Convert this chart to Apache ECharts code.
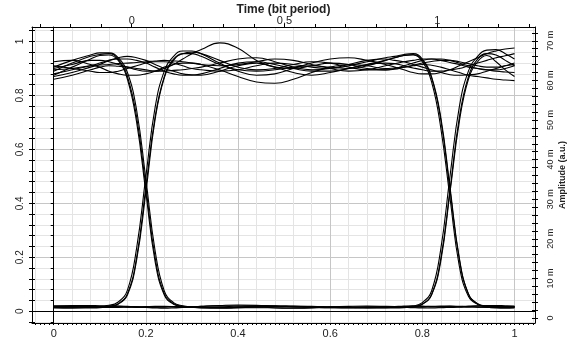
<!DOCTYPE html>
<html>
<head>
<meta charset="utf-8">
<script src="https://cdn.jsdelivr.net/npm/echarts@6/dist/echarts.min.js"></script>
<style>
  html, body { margin: 0; padding: 0; background: #fff; }
  #chart { width: 573px; height: 340px; }
</style>
</head>
<body>
<div id="chart"></div>
<script>
// sample positions along the bottom axis (denser around the two crossings)
const xs = [0, 0.04, 0.08,
  0.10, 0.12, 0.14, 0.16, 0.18, 0.20, 0.22, 0.24, 0.26, 0.28, 0.30,
  0.32, 0.36, 0.40, 0.44, 0.48, 0.52, 0.56, 0.60, 0.64, 0.68, 0.72,
  0.74, 0.76, 0.78, 0.80, 0.82, 0.84, 0.86, 0.88, 0.90, 0.92, 0.94, 0.96, 0.98, 1.0];

// high - high - high
const high1 = [0.90, 0.915, 0.93,
  0.93, 0.925, 0.915, 0.905, 0.895, 0.89, 0.89, 0.90, 0.915, 0.935, 0.955,
  0.97, 0.995, 0.975, 0.93, 0.905, 0.90, 0.91, 0.92, 0.915, 0.90, 0.895,
  0.897, 0.905, 0.912, 0.92, 0.926, 0.93, 0.93, 0.925, 0.918, 0.91, 0.905, 0.905, 0.91, 0.915];
const high2 = [0.87, 0.885, 0.905,
  0.915, 0.93, 0.94, 0.945, 0.94, 0.93, 0.915, 0.90, 0.89, 0.88, 0.877,
  0.875, 0.89, 0.91, 0.92, 0.905, 0.885, 0.875, 0.885, 0.90, 0.915, 0.92,
  0.918, 0.91, 0.902, 0.895, 0.89, 0.89, 0.895, 0.90, 0.91, 0.92, 0.93, 0.94, 0.947, 0.955];
const high3 = [0.925, 0.93, 0.915,
  0.905, 0.89, 0.88, 0.875, 0.875, 0.88, 0.89, 0.905, 0.915, 0.92, 0.92,
  0.915, 0.895, 0.87, 0.85, 0.845, 0.86, 0.885, 0.905, 0.915, 0.91, 0.90,
  0.902, 0.905, 0.91, 0.915, 0.912, 0.905, 0.895, 0.885, 0.875, 0.87, 0.865, 0.86, 0.857, 0.855];
const high4 = [0.895, 0.90, 0.91,
  0.913, 0.915, 0.918, 0.92, 0.922, 0.925, 0.928, 0.93, 0.928, 0.925, 0.92,
  0.915, 0.91, 0.915, 0.925, 0.935, 0.93, 0.915, 0.90, 0.89, 0.895, 0.91,
  0.918, 0.925, 0.93, 0.935, 0.935, 0.93, 0.922, 0.915, 0.905, 0.90, 0.895, 0.89, 0.887, 0.885];
const high5 = [0.86, 0.875, 0.895,
  0.905, 0.91, 0.908, 0.905, 0.90, 0.895, 0.89, 0.89, 0.893, 0.895, 0.90,
  0.905, 0.92, 0.935, 0.94, 0.925, 0.905, 0.895, 0.90, 0.915, 0.93, 0.935,
  0.93, 0.925, 0.915, 0.905, 0.895, 0.885, 0.877, 0.875, 0.877, 0.88, 0.89, 0.90, 0.91, 0.92];

// high - high - low
const fallLateA = [0.91, 0.90, 0.89,
  0.885, 0.885, 0.89, 0.90, 0.91, 0.92, 0.925, 0.925, 0.92, 0.91, 0.90,
  0.895, 0.89, 0.895, 0.91, 0.92, 0.915, 0.905, 0.90, 0.91, 0.925, 0.94,
  0.945, 0.952, 0.955, 0.935, 0.87, 0.72, 0.46, 0.20, 0.065, 0.028, 0.018, 0.015, 0.015, 0.016];
const fallLateB = [0.88, 0.895, 0.91,
  0.92, 0.93, 0.935, 0.935, 0.93, 0.92, 0.905, 0.89, 0.88, 0.875, 0.875,
  0.88, 0.90, 0.92, 0.925, 0.915, 0.90, 0.89, 0.89, 0.90, 0.915, 0.93,
  0.94, 0.948, 0.95, 0.925, 0.85, 0.68, 0.42, 0.17, 0.055, 0.025, 0.016, 0.012, 0.011, 0.012];

// low - high - high
const riseEarlyA = [0.015, 0.016, 0.015,
  0.015, 0.018, 0.028, 0.065, 0.20, 0.46, 0.72, 0.87, 0.935, 0.955, 0.96,
  0.955, 0.93, 0.905, 0.895, 0.90, 0.915, 0.925, 0.92, 0.905, 0.895, 0.895,
  0.90, 0.91, 0.92, 0.93, 0.935, 0.935, 0.93, 0.92, 0.91, 0.90, 0.895, 0.895, 0.90, 0.91];
const riseEarlyB = [0.02, 0.021, 0.021,
  0.02, 0.022, 0.034, 0.078, 0.235, 0.50, 0.755, 0.89, 0.945, 0.965, 0.965,
  0.955, 0.92, 0.89, 0.875, 0.88, 0.90, 0.92, 0.935, 0.94, 0.93, 0.915,
  0.905, 0.895, 0.885, 0.88, 0.88, 0.885, 0.895, 0.91, 0.925, 0.94, 0.955, 0.965, 0.972, 0.976];

// low - high - low
const riseFall = [0.012, 0.011, 0.012,
  0.013, 0.016, 0.026, 0.06, 0.19, 0.44, 0.71, 0.865, 0.93, 0.955, 0.955,
  0.945, 0.915, 0.895, 0.89, 0.895, 0.905, 0.91, 0.905, 0.90, 0.91, 0.93,
  0.94, 0.948, 0.952, 0.93, 0.865, 0.71, 0.45, 0.195, 0.063, 0.027, 0.017, 0.015, 0.015, 0.016];

// high - low - low
const fallEarlyA = [0.89, 0.92, 0.945,
  0.952, 0.955, 0.935, 0.87, 0.72, 0.46, 0.20, 0.065, 0.028, 0.018, 0.015,
  0.014, 0.013, 0.014, 0.016, 0.017, 0.016, 0.015, 0.014, 0.014, 0.015, 0.016,
  0.016, 0.016, 0.015, 0.015, 0.016, 0.017, 0.018, 0.017, 0.016, 0.015, 0.015, 0.016, 0.017, 0.017];
const fallEarlyB = [0.905, 0.93, 0.95,
  0.958, 0.958, 0.94, 0.885, 0.745, 0.49, 0.225, 0.075, 0.032, 0.02, 0.016,
  0.018, 0.021, 0.023, 0.022, 0.019, 0.017, 0.015, 0.013, 0.012, 0.013, 0.015,
  0.017, 0.019, 0.02, 0.019, 0.017, 0.015, 0.014, 0.015, 0.017, 0.019, 0.021, 0.021, 0.02, 0.019];

// high - low - high
const fallRise = [0.875, 0.905, 0.935,
  0.948, 0.95, 0.93, 0.86, 0.70, 0.44, 0.185, 0.06, 0.026, 0.017, 0.014,
  0.012, 0.011, 0.012, 0.013, 0.012, 0.011, 0.012, 0.013, 0.013, 0.012, 0.012,
  0.012, 0.013, 0.016, 0.026, 0.062, 0.195, 0.45, 0.715, 0.87, 0.935, 0.955, 0.95, 0.93, 0.91];

// low - low - high
const riseLateA = [0.017, 0.016, 0.015,
  0.015, 0.016, 0.016, 0.015, 0.014, 0.014, 0.015, 0.016, 0.017, 0.017, 0.016,
  0.015, 0.014, 0.015, 0.017, 0.018, 0.017, 0.015, 0.014, 0.015, 0.016, 0.016,
  0.016, 0.016, 0.019, 0.032, 0.075, 0.23, 0.50, 0.755, 0.89, 0.945, 0.968, 0.97, 0.955, 0.935];
const riseLateB = [0.015, 0.015, 0.016,
  0.017, 0.018, 0.018, 0.017, 0.016, 0.015, 0.015, 0.015, 0.016, 0.016, 0.015,
  0.014, 0.016, 0.019, 0.021, 0.02, 0.018, 0.016, 0.015, 0.014, 0.014, 0.015,
  0.015, 0.016, 0.017, 0.026, 0.06, 0.185, 0.44, 0.70, 0.86, 0.925, 0.948, 0.925, 0.895, 0.87];

// low - low - low
const low1 = [0.018, 0.017, 0.016,
  0.015, 0.014, 0.014, 0.015, 0.016, 0.017, 0.018, 0.018, 0.017, 0.015, 0.014,
  0.013, 0.013, 0.014, 0.016, 0.018, 0.019, 0.018, 0.016, 0.014, 0.013, 0.013,
  0.014, 0.015, 0.016, 0.017, 0.018, 0.019, 0.019, 0.018, 0.016, 0.015, 0.014, 0.014, 0.015, 0.016];
const low2 = [0.014, 0.015, 0.017,
  0.018, 0.019, 0.019, 0.018, 0.016, 0.014, 0.012, 0.011, 0.012, 0.014, 0.016,
  0.018, 0.02, 0.019, 0.016, 0.013, 0.012, 0.013, 0.016, 0.018, 0.019, 0.018,
  0.017, 0.015, 0.013, 0.012, 0.012, 0.013, 0.015, 0.017, 0.019, 0.02, 0.019, 0.017, 0.015, 0.014];

const traces = [high1, high2, high3, high4, high5, fallLateA, fallLateB, riseEarlyA, riseEarlyB,
  riseFall, fallEarlyA, fallEarlyB, fallRise, riseLateA, riseLateB, low1, low2];

// tick labels
const bottomLabels = [0, 0.2, 0.4, 0.6, 0.8, 1];
const topLabels = [0, 0.5, 1];
const leftLabels = [0, 0.2, 0.4, 0.6, 0.8, 1];
const rightLabels = [0, 10, 20, 30, 40, 50, 60, 70];

function steps(a, b, s) {
  const out = [];
  for (let k = Math.round(a / s); k <= Math.round(b / s); k++) out.push(+(k * s).toFixed(4));
  return out;
}

const FONT = '"Liberation Sans", Arial, sans-serif';
const NARROW = '"Liberation Sans Narrow", "Liberation Sans", Arial, sans-serif';
const MINOR = '#e4e4e4';
const MAJOR = '#c6c6c6';

const X_MIN = -0.0471, X_MAX = 1.0445;
const T_MIN = -0.3262, T_MAX = 1.3197;
const Y_MIN = -0.0438, Y_MAX = 1.0538;
const A_MIN = -1.26, A_MAX = 73.48;

const blackLine = { color: '#000', width: 1 };

const chart = echarts.init(document.getElementById('chart'));
chart.setOption({
  animation: false,
  backgroundColor: '#fff',
  grid: { left: 32, right: 38, top: 27, bottom: 17, containLabel: false, outerBoundsMode: 'none' },
  xAxis: [
    {
      type: 'value', position: 'bottom', min: X_MIN, max: X_MAX,
      axisLine: { show: true, onZero: false, lineStyle: blackLine },
      axisTick: { show: true, customValues: steps(-0.04, 1.04, 0.01), length: 2, lineStyle: blackLine },
      axisLabel: { customValues: bottomLabels, margin: 5, fontSize: 11, color: '#222', fontFamily: FONT },
      splitLine: { show: false }
    },
    {
      type: 'value', position: 'top', min: T_MIN, max: T_MAX,
      axisLine: { show: true, onZero: false, lineStyle: blackLine },
      axisTick: { show: true, customValues: steps(-0.3, 1.3, 0.1), length: 3, lineStyle: blackLine },
      axisLabel: { customValues: topLabels, margin: 1, fontSize: 11, color: '#222', fontFamily: FONT },
      splitLine: { show: false },
      name: 'Time (bit period)', nameLocation: 'middle', nameGap: 11, nameMoveOverlap: false,
      nameTextStyle: { fontWeight: 'bold', fontSize: 12, color: '#222', fontFamily: FONT }
    },
    {
      // grid lines + zero line
      type: 'value', position: 'bottom', min: X_MIN, max: X_MAX,
      axisLine: { show: true, onZero: true, onZeroAxisIndex: 0, lineStyle: blackLine },
      axisTick: { show: false, customValues: steps(-0.04, 1.04, 0.04) },
      axisLabel: { show: false },
      splitLine: { show: true, lineStyle: { color: [MINOR, MAJOR, MINOR, MINOR, MINOR], width: 1 } }
    }
  ],
  yAxis: [
    {
      type: 'value', position: 'left', min: Y_MIN, max: Y_MAX,
      axisLine: { show: true, onZero: false, lineStyle: blackLine },
      axisTick: { show: true, customValues: steps(-0.04, 1.04, 0.04), length: 3, lineStyle: blackLine },
      axisLabel: { customValues: leftLabels, rotate: 90, margin: 7, fontSize: 10, color: '#222', fontFamily: NARROW },
      splitLine: { show: false }
    },
    {
      type: 'value', position: 'right', min: A_MIN, max: A_MAX,
      axisLine: { show: true, onZero: false, lineStyle: blackLine },
      axisTick: { show: true, customValues: steps(0, 72, 2), length: 3, lineStyle: blackLine },
      axisLabel: {
        customValues: rightLabels, rotate: 90, margin: 11, fontSize: 9, color: '#222', fontFamily: NARROW,
        formatter: v => v === 0 ? '0' : v + ' m'
      },
      splitLine: { show: false },
      name: 'Amplitude (a.u.)', nameLocation: 'middle', nameRotate: 90, nameGap: 23, nameMoveOverlap: false,
      nameTextStyle: { fontWeight: 'bold', fontSize: 9, color: '#222', fontFamily: NARROW }
    },
    {
      // grid lines + zero line
      type: 'value', position: 'left', min: Y_MIN, max: Y_MAX,
      axisLine: { show: true, onZero: true, onZeroAxisIndex: 0, lineStyle: blackLine },
      axisTick: { show: true, customValues: steps(-0.04, 1.04, 0.04), length: 3, lineStyle: blackLine },
      axisLabel: { show: false },
      splitLine: { show: true, lineStyle: { color: [MINOR, MAJOR, MINOR, MINOR, MINOR], width: 1 } }
    },
    {
      type: 'value', position: 'left', min: Y_MIN, max: Y_MAX,
      axisLine: { show: false, onZero: false },
      axisTick: { show: true, inside: true, customValues: steps(-0.04, 1.04, 0.04), length: 3, lineStyle: blackLine },
      axisLabel: { show: false }, splitLine: { show: false }
    },
    {
      type: 'value', position: 'right', min: A_MIN, max: A_MAX,
      axisLine: { show: false, onZero: false },
      axisTick: { show: true, inside: true, customValues: steps(0, 72, 2), length: 3, lineStyle: blackLine },
      axisLabel: { show: false }, splitLine: { show: false }
    }
  ],
  series: traces.map(t => ({
    type: 'line',
    xAxisIndex: 0,
    yAxisIndex: 0,
    data: xs.map((x, i) => [x, t[i]]),
    smooth: 0.45,
    showSymbol: false,
    silent: true,
    lineStyle: { color: '#000', width: 1.1 }
  }))
});
</script>
</body>
</html>
